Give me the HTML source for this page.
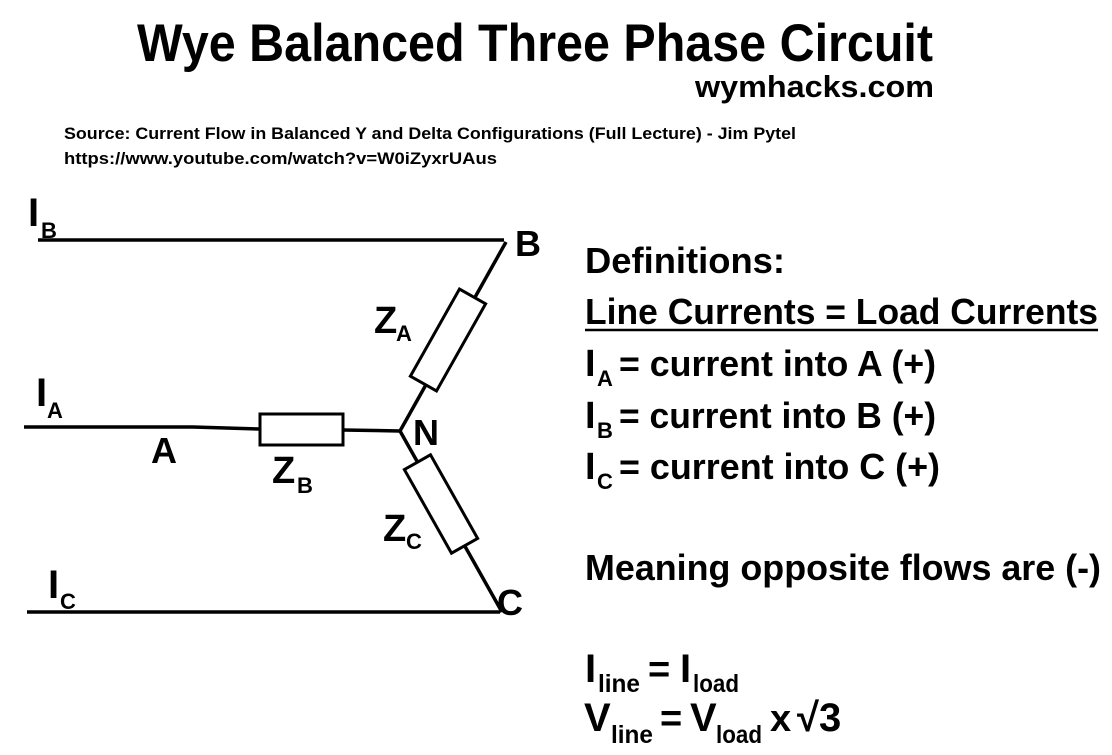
<!DOCTYPE html>
<html><head><meta charset="utf-8"><style>
html,body{margin:0;padding:0;background:#fff;}
svg{display:block;}
text{font-family:"Liberation Sans",sans-serif;font-weight:bold;fill:#000;}
</style></head><body>
<svg width="1112" height="755" viewBox="0 0 1112 755" xmlns="http://www.w3.org/2000/svg">
<rect width="1112" height="755" fill="#fff"/>
<text x="137" y="61" font-size="53" textLength="796" lengthAdjust="spacingAndGlyphs">Wye Balanced Three Phase  Circuit</text>
<text x="695" y="97" font-size="31" textLength="239" lengthAdjust="spacingAndGlyphs">wymhacks.com</text>
<text x="64" y="139" font-size="17" textLength="732" lengthAdjust="spacingAndGlyphs">Source: Current Flow in Balanced Y and Delta Configurations (Full Lecture) - Jim Pytel</text>
<text x="64" y="164" font-size="17" textLength="433" lengthAdjust="spacingAndGlyphs">https://www.youtube.com/watch?v=W0iZyxrUAus</text>

<g stroke="#000" stroke-width="3.5" fill="none">
<line x1="38" y1="240" x2="504" y2="240"/>
<line x1="506" y1="242" x2="400" y2="431"/>
<line x1="24" y1="427" x2="193" y2="427"/>
<line x1="193" y1="427" x2="260" y2="429"/>
<line x1="343" y1="430" x2="400" y2="431"/>
<line x1="400" y1="431" x2="502" y2="612"/>
<line x1="27" y1="612" x2="500" y2="612"/>
</g>
<g stroke="#000" stroke-width="3" fill="#fff">
<rect x="260" y="414" width="83" height="31"/>
<rect x="-50" y="-15" width="100" height="30" transform="translate(448,340) rotate(-60.6)"/>
<rect x="-48" y="-15" width="96" height="30" transform="translate(441,504) rotate(60.6)"/>
</g>

<text x="28" y="226" font-size="40">I</text><text x="41" y="238" font-size="22">B</text>
<text x="515" y="256" font-size="36">B</text>
<text x="374" y="333" font-size="38">Z</text><text x="396" y="341" font-size="22">A</text>
<text x="36" y="406" font-size="40">I</text><text x="47" y="418" font-size="22">A</text>
<text x="151" y="463" font-size="36">A</text>
<text x="413" y="445" font-size="36">N</text>
<text x="272" y="483" font-size="38">Z</text><text x="297" y="493" font-size="22">B</text>
<text x="383" y="541" font-size="38">Z</text><text x="406" y="549" font-size="22">C</text>
<text x="48" y="598" font-size="40">I</text><text x="60" y="609" font-size="22">C</text>
<text x="497" y="615" font-size="36">C</text>

<text x="585" y="273" font-size="36" textLength="200" lengthAdjust="spacingAndGlyphs">Definitions:</text>
<text x="585" y="324" font-size="36" textLength="513" lengthAdjust="spacingAndGlyphs">Line Currents = Load Currents</text>
<line x1="585" y1="330" x2="1098" y2="330" stroke="#000" stroke-width="2.5"/>
<text x="585" y="376" font-size="38">I</text><text x="597" y="386" font-size="22">A</text>
<text x="619" y="376" font-size="36" textLength="317" lengthAdjust="spacingAndGlyphs">= current into A (+)</text>
<text x="585" y="428" font-size="38">I</text><text x="597" y="438" font-size="22">B</text>
<text x="619" y="428" font-size="36" textLength="317" lengthAdjust="spacingAndGlyphs">= current into B (+)</text>
<text x="585" y="479" font-size="38">I</text><text x="597" y="489" font-size="22">C</text>
<text x="619" y="479" font-size="36" textLength="321" lengthAdjust="spacingAndGlyphs">= current into C (+)</text>
<text x="585" y="580" font-size="36" textLength="516" lengthAdjust="spacingAndGlyphs">Meaning opposite flows are (-)</text>

<text x="585" y="682" font-size="40">I</text><text x="598" y="692" font-size="25" textLength="42" lengthAdjust="spacingAndGlyphs">line</text>
<text x="648" y="682" font-size="38">=</text>
<text x="680" y="682" font-size="40">I</text><text x="693" y="692" font-size="25" textLength="46" lengthAdjust="spacingAndGlyphs">load</text>
<text x="584" y="731" font-size="40">V</text><text x="611" y="743" font-size="25" textLength="42" lengthAdjust="spacingAndGlyphs">line</text>
<text x="660" y="731" font-size="38">=</text>
<text x="690" y="731" font-size="40">V</text><text x="716" y="743" font-size="25" textLength="46" lengthAdjust="spacingAndGlyphs">load</text>
<text x="770" y="731" font-size="38">x</text>
<text x="797" y="731" font-size="40">√3</text>
</svg>
</body></html>
